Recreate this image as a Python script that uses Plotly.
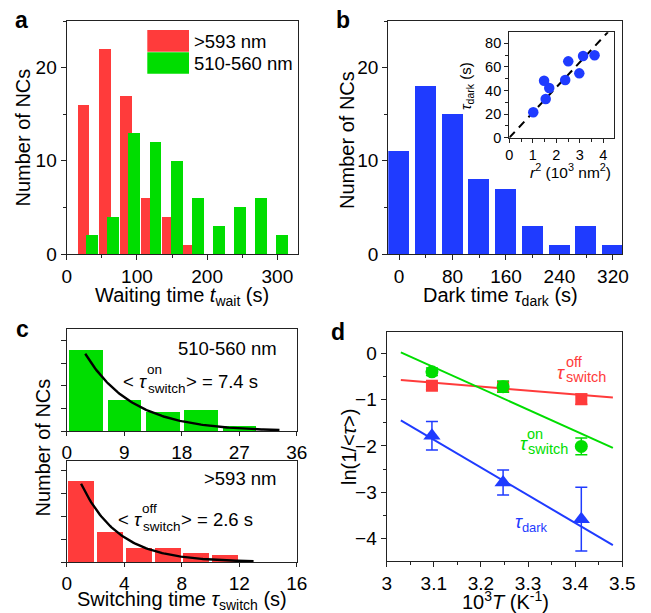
import numpy as np
import plotly.graph_objects as go

W, H = 651, 613
def px(x): return x / W
def py(y): return 1 - y / H

RED = "#FF3B3B"
GREEN = "#00DD00"
BLUE = "#1F3BFF"
FONT = "Arial, Liberation Sans, sans-serif"

# ---------------- data ----------------
# panel a: waiting time histograms
wait_red_x = [23.5, 53.5, 83.5, 113.5, 143.5, 173.5]
wait_red_n = [16, 22, 17, 6, 4, 1]
wait_green_x = [36, 66, 96, 126, 156, 186, 216, 246, 276, 306]
wait_green_n = [2, 4, 13, 12, 10, 6, 3, 5, 6, 2]

# panel b: dark time histogram
dark_x = [0, 40, 80, 120, 160, 200, 240, 280, 320]
dark_n = [11, 18, 15, 8, 7, 3, 1, 3, 1]

# panel b inset
inset_r2 = [1.02, 1.48, 1.55, 1.70, 2.38, 2.51, 2.98, 3.14, 3.63]
inset_tau = [21.5, 48.3, 32.8, 42.1, 48.9, 64.7, 54.5, 69.2, 69.8]
inset_fit_x = [0, 4.2]
inset_fit_y = [0, 89.5]

# panel c: switching time histograms
on_x = [3, 9, 15, 21, 27]
on_n = [17.7, 6.7, 4.2, 4.7, 1.2]
off_x = [1, 3, 5, 7, 9, 11]
off_n = [17.8, 6.7, 3.2, 3.2, 2.1, 1.5]
tau_on = 7.4
tau_off = 2.6
fit_amp_on = 25.2
fit_amp_off = 25.2
fit_on_span = [2.9, 33.3]
fit_off_span = [1.0, 13.0]

# panel d: Arrhenius plot
invT = [3.096, 3.247, 3.413]
ln_off = [-0.70, -0.73, -0.99]
err_off = [0.08, 0.10, 0.11]
ln_on = [-0.40, -0.72, -2.01]
err_on = [0.08, 0.12, 0.18]
ln_dark = [-1.78, -2.79, -3.58]
err_dark = [0.31, 0.27, 0.69]
fit_x = [3.03, 3.48]
fit_off = [-0.576, -0.957]
fit_on = [0.02, -2.04]
fit_dark = [-1.45, -4.14]

# ---------------- figure ----------------
fig = go.Figure()

# a
fig.add_trace(go.Bar(x=wait_red_x, y=wait_red_n, width=17, marker=dict(color=RED, line=dict(width=0)),
                     xaxis="x", yaxis="y", showlegend=False))
fig.add_trace(go.Bar(x=wait_green_x, y=wait_green_n, width=17, marker=dict(color=GREEN, line=dict(width=0)),
                     xaxis="x", yaxis="y", showlegend=False))
# b
fig.add_trace(go.Bar(x=dark_x, y=dark_n, width=31.5, marker=dict(color=BLUE, line=dict(width=0)),
                     xaxis="x2", yaxis="y2", showlegend=False))
# inset
fig.add_trace(go.Scatter(x=inset_fit_x, y=inset_fit_y, mode="lines",
                         line=dict(color="black", width=2, dash="8px,6px"),
                         xaxis="x3", yaxis="y3", showlegend=False))
fig.add_trace(go.Scatter(x=inset_r2, y=inset_tau, mode="markers",
                         marker=dict(color=BLUE, size=10.5),
                         xaxis="x3", yaxis="y3", showlegend=False))
# c top
fig.add_trace(go.Bar(x=on_x, y=on_n, width=5.3, marker=dict(color=GREEN, line=dict(width=0)),
                     xaxis="x4", yaxis="y4", showlegend=False))
t_on = np.linspace(fit_on_span[0], fit_on_span[1], 120)
fig.add_trace(go.Scatter(x=t_on, y=fit_amp_on * np.exp(-t_on / tau_on), mode="lines",
                         line=dict(color="black", width=2.4), xaxis="x4", yaxis="y4", showlegend=False))
# c bottom
fig.add_trace(go.Bar(x=off_x, y=off_n, width=1.8, marker=dict(color=RED, line=dict(width=0)),
                     xaxis="x5", yaxis="y5", showlegend=False))
t_off = np.linspace(fit_off_span[0], fit_off_span[1], 120)
fig.add_trace(go.Scatter(x=t_off, y=fit_amp_off * np.exp(-t_off / tau_off), mode="lines",
                         line=dict(color="black", width=2.4), xaxis="x5", yaxis="y5", showlegend=False))
# d lines
for yy, c in [(fit_off, RED), (fit_on, GREEN), (fit_dark, BLUE)]:
    fig.add_trace(go.Scatter(x=fit_x, y=yy, mode="lines", line=dict(color=c, width=2),
                             xaxis="x6", yaxis="y6", showlegend=False))
# d markers
for yy, ee, c, sym, sz in [(ln_off, err_off, RED, "square", 12),
                           (ln_on, err_on, GREEN, "circle", 13),
                           (ln_dark, err_dark, BLUE, "triangle-up", 15)]:
    fig.add_trace(go.Scatter(x=invT, y=yy, mode="markers",
                             marker=dict(color=c, size=sz, symbol=sym),
                             error_y=dict(type="data", array=ee, color=c, thickness=1.5, width=6),
                             xaxis="x6", yaxis="y6", showlegend=False))

LINEC = "#222222"
TICK = 19
def ax(domain, rng, dtick=None, minor=None, size=TICK, labels=True, anchor=None, tick0=None, ticklen=5):
    d = dict(domain=domain, range=rng, showline=True, linecolor=LINEC, linewidth=1.3, mirror=True,
             ticks="outside", ticklen=ticklen, tickwidth=1.3, tickcolor=LINEC, showgrid=False,
             zeroline=False, tickfont=dict(size=size, color="black", family=FONT),
             showticklabels=labels, anchor=anchor, fixedrange=True, automargin=False)
    if dtick is not None:
        d["dtick"] = dtick
        d["tick0"] = 0 if tick0 is None else tick0
    if minor is not None:
        d["minor"] = dict(dtick=minor, tick0=0 if tick0 is None else tick0, ticks="outside",
                          ticklen=3, tickwidth=1.3, tickcolor=LINEC, showgrid=False)
    return d

layout = dict(
    width=W, height=H, margin=dict(l=0, r=0, t=0, b=0, autoexpand=False),
    paper_bgcolor="white", plot_bgcolor="white", barmode="overlay", bargap=0,
    font=dict(family=FONT, size=18, color="black"),
    xaxis=ax([px(66.7), px(297.7)], [0, 329], 100, 50, anchor="y"),
    yaxis=ax([py(254), py(21)], [0, 25], 10, 5, anchor="x"),
    xaxis2=ax([px(388.3), px(622.3)], [-16, 334], 80, 40, anchor="y2"),
    yaxis2=ax([py(254), py(21)], [0, 25], 10, 5, anchor="x2"),
    xaxis3=ax([px(509.3), px(614.3)], [0, 4.47], 1, 0.5, size=14.5, anchor="y3", ticklen=4),
    yaxis3=ax([py(137.7), py(32.3)], [0, 89.3], 20, 10, size=14.5, anchor="x3", ticklen=4),
    xaxis4=ax([px(66.7), px(296.7)], [0, 36], 9, None, anchor="y4", ticklen=4),
    yaxis4=ax([py(431.3), py(329.3)], [0, 22.4], 5, None, labels=False, anchor="x4"),
    xaxis5=ax([px(66.7), px(296.7)], [0, 16], 4, None, anchor="y5", ticklen=4),
    yaxis5=ax([py(562.0), py(460.7)], [0, 22.2], 5, None, labels=False, anchor="x5"),
    xaxis6=ax([px(386.7), px(622.3)], [3, 3.5], 0.1, 0.05, anchor="y6", tick0=3),
    yaxis6=ax([py(561.3), py(331.7)], [-4.49, 0.466], 1, 0.5, anchor="x6"),
)
fig.update_layout(**layout)

anns = []
TS = 20
def ann(text, x, y, size=TS, color="black", xanchor="center", yanchor="middle", angle=0):
    anns.append(dict(text=text, x=px(x), y=py(y), xref="paper", yref="paper", showarrow=False,
                     xanchor=xanchor, yanchor=yanchor, textangle=angle, borderpad=0,
                     font=dict(size=size, color=color, family=FONT)))

# panel labels
ann("<b>a</b>", 21.7, 20, size=23)
ann("<b>b</b>", 342.5, 20, size=23)
ann("<b>c</b>", 22, 329, size=23)
ann("<b>d</b>", 338, 332, size=23)

# a
ann("Number of NCs", 22, 137.5, angle=-90)
ann("Waiting time <i>t</i><sub>wait</sub> (s)", 182, 296)
ann("&gt;593 nm", 193, 41.5, size=18.5, xanchor="left")
ann("510-560 nm", 193, 63.5, size=18.5, xanchor="left")
# b
ann("Number of NCs", 347, 140, angle=-90)
ann("Dark time <i>τ</i><sub>dark</sub> (s)", 500, 296)
ann("<i>τ</i><sub>dark</sub> (s)", 466, 86, size=15, angle=-90)
ann("<i>r</i><sup>2</sup> (10<sup>3</sup> nm<sup>2</sup>)", 570, 171, size=15.5)
# c
ann("Number of NCs", 42.5, 448, angle=-90)
ann("Switching time <i>τ</i><sub>switch</sub> (s)", 182, 600)
ann("510-560 nm", 278.3, 348.3, size=18.5, xanchor="right")
ann("&gt;593 nm", 278.3, 478.3, size=18.5, xanchor="right")
ann("&lt; <i>τ</i>", 147.5, 381, size=18.5, xanchor="right")
ann("on", 145.5, 369, size=13.5, xanchor="left")
ann("switch", 146.5, 388.5, size=13.5, xanchor="left")
ann("&gt; = 7.4 s", 185, 381, size=18.5, xanchor="left")
ann("&lt; <i>τ</i>", 142.5, 519, size=18.5, xanchor="right")
ann("off", 140.5, 508, size=13.5, xanchor="left")
ann("switch", 141.5, 526.5, size=13.5, xanchor="left")
ann("&gt; = 2.6 s", 180, 519, size=18.5, xanchor="left")
# d
ann("ln(1/&lt;<i>τ</i>&gt;)", 349, 447, angle=-90)
ann("10<sup>3</sup><i>T</i> (K<sup>-1</sup>)", 505, 600)
ann("<i>τ</i>", 566, 372, size=18.5, color=RED, xanchor="right")
ann("off", 564.5, 362, size=14.5, color=RED, xanchor="left")
ann("switch", 565, 377, size=14.5, color=RED, xanchor="left")
ann("<i>τ</i>", 528.5, 443, size=18.5, color=GREEN, xanchor="right")
ann("on", 525.5, 434, size=14.5, color=GREEN, xanchor="left")
ann("switch", 526.5, 448.5, size=14.5, color=GREEN, xanchor="left")
ann("<i>τ</i><sub>dark</sub>", 514, 523, size=18.5, color=BLUE, xanchor="left")

# legend swatches for panel a
shapes = [
    dict(type="rect", xref="paper", yref="paper", x0=px(147.3), x1=px(189), y0=py(51.7), y1=py(30),
         fillcolor=RED, line=dict(width=0)),
    dict(type="rect", xref="paper", yref="paper", x0=px(147.3), x1=px(189), y0=py(73.7), y1=py(52.3),
         fillcolor=GREEN, line=dict(width=0)),
]
fig.update_layout(annotations=anns, shapes=shapes)

fig.write_html("out.html", config={"displayModeBar": False},
               post_script="document.body.style.margin='0';document.body.style.overflow='hidden';")
